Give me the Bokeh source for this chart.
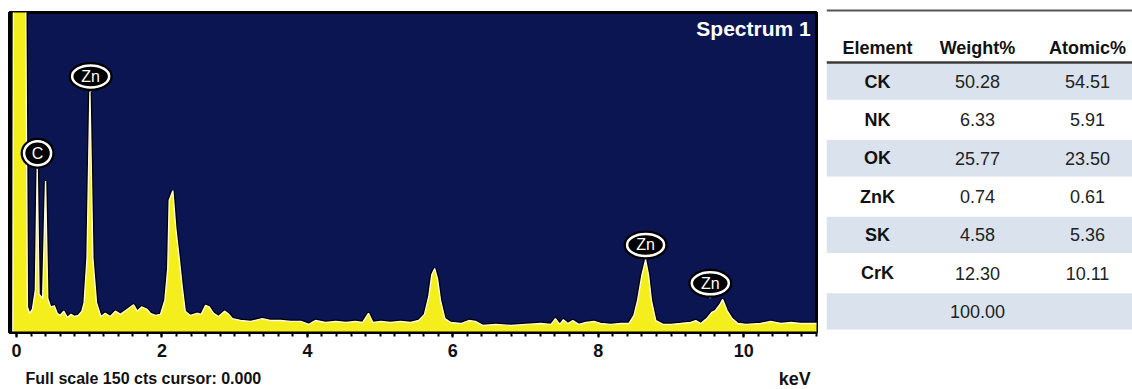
from bokeh.plotting import figure
from bokeh.models import Range1d, SingleIntervalTicker, Label, ColumnDataSource
from bokeh.layouts import row, column
from bokeh.embed import file_html
from bokeh.resources import INLINE
from bokeh.core.properties import value

# ---------------- data ----------------
energy_kev = [-0.05, -0.04, 0.12, 0.15, 0.18, 0.22, 0.26, 0.285, 0.31, 0.36, 0.40, 0.43, 0.47,
              0.52, 0.56, 0.60, 0.65, 0.70, 0.75, 0.80, 0.85, 0.90, 0.93, 0.97, 1.01, 1.05,
              1.10, 1.16, 1.22, 1.29, 1.36, 1.43, 1.53, 1.61, 1.66, 1.72, 1.79, 1.84, 1.91,
              1.98, 2.04, 2.08, 2.10, 2.15, 2.19, 2.24, 2.28, 2.32, 2.39, 2.48, 2.54, 2.60,
              2.65, 2.71, 2.78, 2.86, 2.92, 2.97, 3.08, 3.22, 3.38, 3.49, 3.63, 3.77, 3.91,
              4.02, 4.11, 4.25, 4.39, 4.53, 4.66, 4.76, 4.84, 4.90, 5.01, 5.14, 5.28, 5.42,
              5.53, 5.61, 5.67, 5.71, 5.75, 5.79, 5.83, 5.89, 5.97, 6.11, 6.22, 6.31, 6.41,
              6.59, 6.80, 7.00, 7.21, 7.35, 7.41, 7.47, 7.52, 7.58, 7.65, 7.73, 7.83, 7.94,
              8.03, 8.17, 8.31, 8.42, 8.49, 8.54, 8.60, 8.65, 8.69, 8.73, 8.79, 8.89, 9.00,
              9.13, 9.27, 9.34, 9.41, 9.49, 9.56, 9.61, 9.67, 9.71, 9.77, 9.84, 9.92, 10.03,
              10.23, 10.37, 10.51, 10.65, 10.78, 10.99, 11.03]
counts = [0, 200, 200, 12, 9, 11, 20, 77, 18, 16, 71, 16, 12,
          12.5, 9, 8, 10, 7, 8.5, 7.5, 8, 10, 14, 35, 113, 35,
          14, 7.5, 9, 7.5, 10, 8.5, 11, 13, 10, 12, 11, 9, 8,
          8.5, 15, 30, 62, 66.5, 49, 34, 21, 10, 8, 9, 8.5, 12.7,
          12, 9, 7.5, 10, 8.5, 6.5, 5.6, 5.2, 6.5, 5.6, 5.6, 5.2, 5.2,
          3.8, 5.6, 4.7, 5.2, 4.7, 5.2, 4.7, 9, 4.7, 5.2, 4.7, 5.2, 4.7,
          5.6, 8.5, 17, 27, 30, 25, 15, 6.5, 4.7, 4.2, 5.6, 5.2, 3.3,
          3.8, 3.3, 3.8, 4.2, 3.8, 6.5, 3.8, 6, 4.2, 5.6, 3.8, 4.7, 5.2,
          4.2, 3.8, 4.2, 4.2, 8, 15, 27, 34, 27, 15, 5.6, 3.8, 3.8,
          4.2, 4.7, 5.6, 4.2, 6.5, 9.4, 10.3, 13, 15.5, 10.3, 6.5, 4.2, 3.8,
          4.2, 5.2, 4.2, 4.7, 4.2, 4.2, 4.2]

marker_names = ["C", "Zn", "Zn", "Zn"]
marker_kev = [0.29, 1.02, 8.65, 9.54]
marker_counts = [77, 113, 34, 16]

table_headers = ["Element", "Weight%", "Atomic%"]
elements = ["CK", "NK", "OK", "ZnK", "SK", "CrK"]
weight_pct = [50.28, 6.33, 25.77, 0.74, 4.58, 12.30]
atomic_pct = [54.51, 5.91, 23.50, 0.61, 5.36, 10.11]
weight_total = 100.00

spectrum_title = "Spectrum 1"
footer_text = "Full scale 150 cts cursor: 0.000"
unit_text = "keV"

# ---------------- style ----------------
FONT = "Liberation Sans"
NAVY = "#0a1552"
YELLOW = "#f4ef1c"
W_SPEC, W_TAB = 826, 306
H_SPEC, H_FOOT = 362, 27
H = H_SPEC + H_FOOT
BL, BR, BT = 9, 10, 12
PX_PER_COUNT = 320 / 150.0

xr = Range1d(-0.096, 11.0)

# ---------------- spectrum ----------------
p = figure(width=W_SPEC, height=H_SPEC, x_range=xr, y_range=Range1d(0, 150),
           output_backend="svg", toolbar_location=None, y_axis_location=None,
           min_border_left=BL, min_border_right=BR, min_border_top=BT, min_border_bottom=30,
           background_fill_color=NAVY, border_fill_color="white",
           outline_line_color="black", outline_line_width=3)
p.grid.visible = False
ax = p.xaxis[0]
ax.ticker = SingleIntervalTicker(interval=2, num_minor_ticks=10)
ax.axis_line_width = 2
ax.axis_line_color = "black"
ax.major_tick_in = 0
ax.major_tick_out = 5
ax.minor_tick_in = 0
ax.minor_tick_out = 4
ax.major_tick_line_width = 2
ax.minor_tick_line_width = 2
ax.major_tick_line_color = "black"
ax.minor_tick_line_color = "black"
ax.major_label_text_font = FONT
ax.major_label_text_font_style = "bold"
ax.major_label_text_font_size = "18px"
ax.major_label_text_color = "#111111"
ax.major_label_standoff = 6

src = ColumnDataSource(dict(x=energy_kev, y=counts))
p.line("x", "y", source=src, line_color="black", line_width=4)
p.varea(x="x", y1=0, y2="y", source=src, fill_color=YELLOW)
p.line("x", "y", source=src, line_color="#fffbe0", line_width=1.4)

label_y = [c + 15 / PX_PER_COUNT for c in marker_counts]
ell_w = [17 + 10 * len(n) for n in marker_names]
ell_h = [24 if len(n) == 1 else 22 for n in marker_names]
msrc = ColumnDataSource(dict(x=marker_kev, y0=marker_counts, y1=label_y, name=marker_names,
                             w=ell_w, h=ell_h))
p.segment(x0="x", y0="y0", x1="x", y1="y1", source=msrc, line_color="black", line_width=4)
p.segment(x0="x", y0="y0", x1="x", y1="y1", source=msrc, line_color="white", line_width=1.8)
p.ellipse(x="x", y="y1", width="w", height="h", width_units="screen", height_units="screen",
          source=msrc, fill_color="black", line_color="black", line_width=7)
p.ellipse(x="x", y="y1", width="w", height="h", width_units="screen", height_units="screen",
          source=msrc, fill_color="black", line_color="white", line_width=2.5)
p.text(x="x", y="y1", text="name", source=msrc, text_color="white", text_font=value(FONT),
       text_font_size="16px", text_align="center", text_baseline="middle")

p.add_layout(Label(x=10.92, y=150 - 16 / PX_PER_COUNT, text=spectrum_title, text_align="right",
                   text_baseline="middle", text_color="white", text_font=FONT,
                   text_font_style="bold", text_font_size="21px"))

# ---------------- footer (shares the keV scale) ----------------
f = figure(width=W_SPEC, height=H_FOOT, x_range=xr, y_range=Range1d(H_FOOT, 0),
           output_backend="svg", toolbar_location=None, x_axis_location=None,
           y_axis_location=None, min_border_left=BL, min_border_right=BR,
           min_border_top=0, min_border_bottom=0, outline_line_color=None,
           background_fill_color="white", border_fill_color="white")
f.grid.visible = False
f.text(x=[0.124], y=[16], text=[footer_text], text_font=value(FONT), text_font_style="bold",
       text_font_size="16px", text_color="#111111", text_align="left", text_baseline="middle")
f.text(x=[10.92], y=[16], text=[unit_text], text_font=value(FONT), text_font_style="bold",
       text_font_size="18px", text_color="#111111", text_align="right", text_baseline="middle")

# ---------------- table ----------------
t = figure(width=W_TAB, height=H, x_range=Range1d(0, W_TAB), y_range=Range1d(H, 0),
           output_backend="svg", toolbar_location=None, x_axis_location=None,
           y_axis_location=None, min_border=0, outline_line_color=None,
           background_fill_color="white", border_fill_color="white")
t.grid.visible = False

col_x = [51, 151, 261]
head_y = 47
rows_top = 62
row_h = 38.3
n_rows = len(elements) + 1
tops = [rows_top + row_h * i for i in range(n_rows)]
shaded = [i for i in range(n_rows) if i % 2 == 0]
t.quad(left=0, right=W_TAB, top=[tops[i] + 1 for i in shaded],
       bottom=[tops[i] + row_h - 1 for i in shaded], fill_color="#dae2ee", line_color=None)
t.segment(x0=[0], y0=[10], x1=[W_TAB], y1=[10], line_color="#555555", line_width=2)
t.segment(x0=[0], y0=[rows_top], x1=[W_TAB], y1=[rows_top], line_color="#3a3a3a", line_width=2.5)

t.text(x=col_x, y=[head_y] * 3, text=table_headers, text_font=value(FONT),
       text_font_style="bold", text_font_size="18px", text_color="#111111",
       text_align="center", text_baseline="middle")

centers = [tp + row_h / 2 for tp in tops]
t.text(x=[col_x[0]] * len(elements), y=centers[:len(elements)], text=elements,
       text_font=value(FONT), text_font_style="bold", text_font_size="18px",
       text_color="#111111", text_align="center", text_baseline="middle")
w_txt = [f"{v:.2f}" for v in weight_pct] + [f"{weight_total:.2f}"]
t.text(x=[col_x[1]] * len(w_txt), y=centers[:len(w_txt)], text=w_txt,
       text_font=value(FONT), text_font_size="18px", text_color="#222222",
       text_align="center", text_baseline="middle")
a_txt = [f"{v:.2f}" for v in atomic_pct]
t.text(x=[col_x[2]] * len(a_txt), y=centers[:len(a_txt)], text=a_txt,
       text_font=value(FONT), text_font_size="18px", text_color="#222222",
       text_align="center", text_baseline="middle")

layout = row(column(p, f), t)
open("out.html", "w").write(file_html(layout, INLINE))
